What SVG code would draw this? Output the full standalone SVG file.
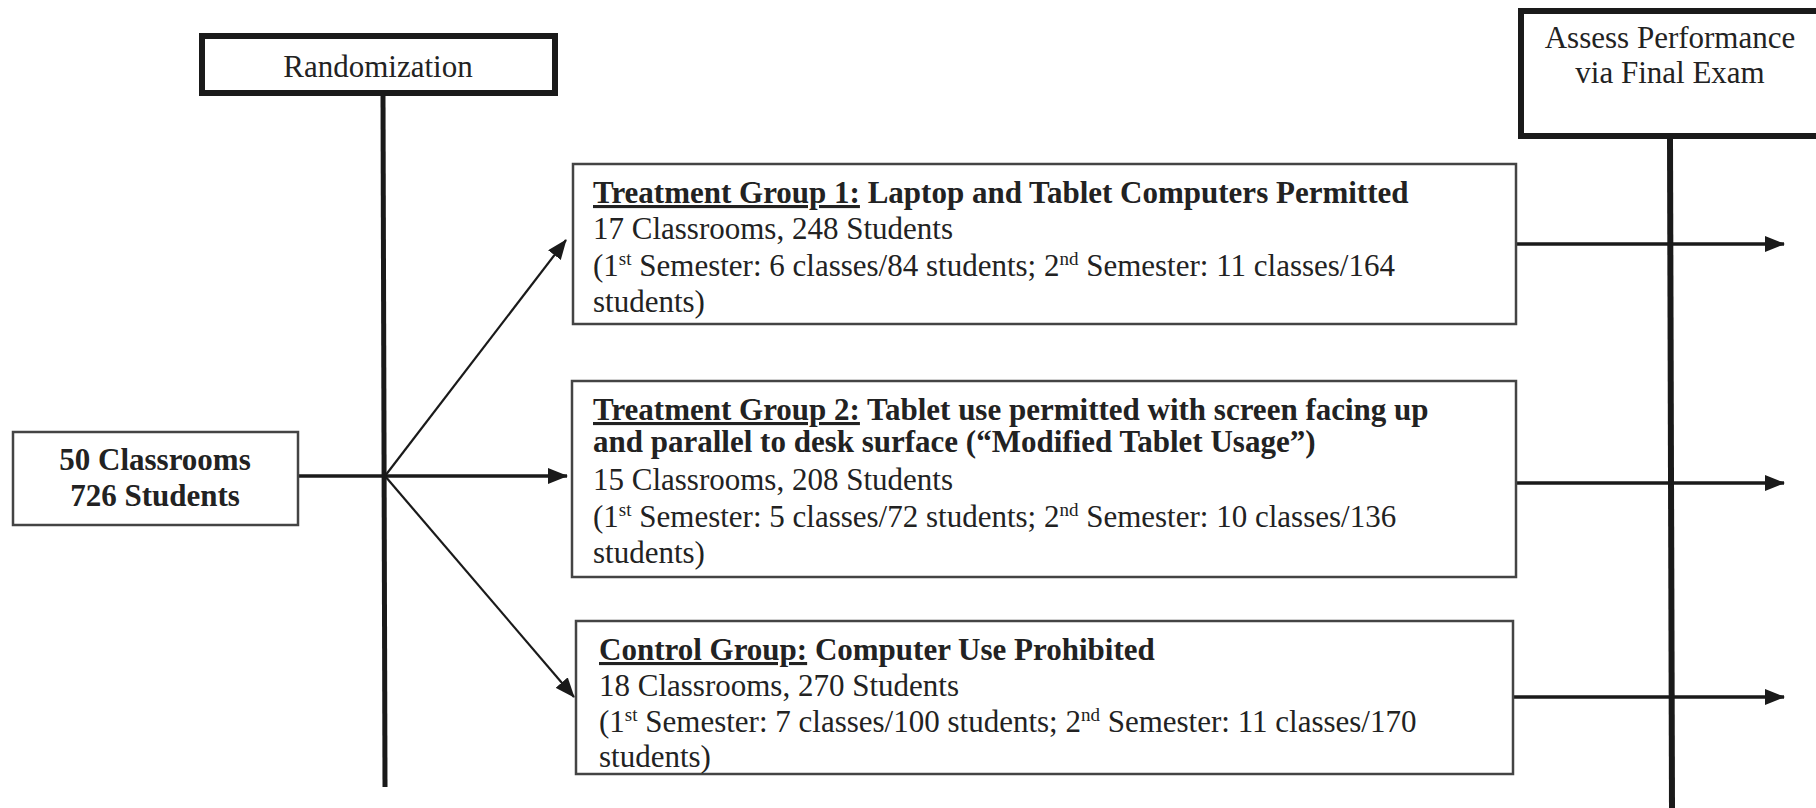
<svg xmlns="http://www.w3.org/2000/svg" width="1816" height="808" viewBox="0 0 1816 808">
<style>
.t{font-family:"Liberation Serif","Times New Roman",serif;font-size:31px;fill:#222}
.b{font-weight:bold}
.thin{fill:#fff;stroke:#444;stroke-width:2.5}
.thick{fill:#fff;stroke:#1a1a1a;stroke-width:6}
.ln{stroke:#1a1a1a;fill:none}
</style>
<defs>
<marker id="ah" markerUnits="userSpaceOnUse" markerWidth="20" markerHeight="16" refX="19" refY="8" orient="auto">
<path d="M0,0 L20,8 L0,16 z" fill="#1a1a1a"/>
</marker>
</defs>
<rect width="1816" height="808" fill="#fff"/>
<g id="connectors">
<line class="ln" x1="383" y1="96" x2="385" y2="787" stroke-width="5"/>
<line class="ln" x1="1670" y1="139" x2="1672" y2="808" stroke-width="6"/>
<line class="ln" x1="298" y1="476" x2="567" y2="476" stroke-width="3.5" marker-end="url(#ah)"/>
<line class="ln" x1="385" y1="476" x2="566" y2="240" stroke-width="2.2" marker-end="url(#ah)"/>
<line class="ln" x1="385" y1="476" x2="574" y2="697" stroke-width="2.2" marker-end="url(#ah)"/>
<line class="ln" x1="1516" y1="244" x2="1784" y2="244" stroke-width="3.5" marker-end="url(#ah)"/>
<line class="ln" x1="1516" y1="483" x2="1784" y2="483" stroke-width="3.5" marker-end="url(#ah)"/>
<line class="ln" x1="1513" y1="697" x2="1784" y2="697" stroke-width="3.5" marker-end="url(#ah)"/>
</g>
<g id="randomization">
<rect class="thick" x="202" y="36" width="353" height="57"/>
<text class="t" x="378" y="77" text-anchor="middle">Randomization</text>
</g>
<g id="assess">
<rect class="thick" x="1521" y="11" width="320" height="125"/>
<text class="t" x="1670" y="48" text-anchor="middle">Assess Performance</text>
<text class="t" x="1670" y="83" text-anchor="middle">via Final Exam</text>
</g>
<g id="population">
<rect class="thin" x="13" y="432" width="285" height="93"/>
<text class="t b" x="155" y="470" text-anchor="middle">50 Classrooms</text>
<text class="t b" x="155" y="506" text-anchor="middle">726 Students</text>
</g>
<g id="treatment1">
<rect class="thin" x="573" y="164" width="943" height="160"/>
<text class="t b" x="593" y="203"><tspan text-decoration="underline">Treatment Group 1:</tspan> Laptop and Tablet Computers Permitted</text>
<text class="t" x="593" y="239">17 Classrooms, 248 Students</text>
<text class="t" x="593" y="276">(1<tspan font-size="19" dy="-11">st</tspan><tspan dy="11"> Semester: 6 classes/84 students; 2</tspan><tspan font-size="19" dy="-11">nd</tspan><tspan dy="11"> Semester: 11 classes/164</tspan></text>
<text class="t" x="593" y="312">students)</text>
</g>
<g id="treatment2">
<rect class="thin" x="572" y="381" width="944" height="196"/>
<text class="t b" x="593" y="420"><tspan text-decoration="underline">Treatment Group 2:</tspan> Tablet use permitted with screen facing up</text>
<text class="t b" x="593" y="452">and parallel to desk surface (“Modified Tablet Usage”)</text>
<text class="t" x="593" y="490">15 Classrooms, 208 Students</text>
<text class="t" x="593" y="527">(1<tspan font-size="19" dy="-11">st</tspan><tspan dy="11"> Semester: 5 classes/72 students; 2</tspan><tspan font-size="19" dy="-11">nd</tspan><tspan dy="11"> Semester: 10 classes/136</tspan></text>
<text class="t" x="593" y="563">students)</text>
</g>
<g id="control">
<rect class="thin" x="576" y="621" width="937" height="153"/>
<text class="t b" x="599" y="660"><tspan text-decoration="underline">Control Group:</tspan> Computer Use Prohibited</text>
<text class="t" x="599" y="696">18 Classrooms, 270 Students</text>
<text class="t" x="599" y="732">(1<tspan font-size="19" dy="-11">st</tspan><tspan dy="11"> Semester: 7 classes/100 students; 2</tspan><tspan font-size="19" dy="-11">nd</tspan><tspan dy="11"> Semester: 11 classes/170</tspan></text>
<text class="t" x="599" y="767">students)</text>
</g>
</svg>
